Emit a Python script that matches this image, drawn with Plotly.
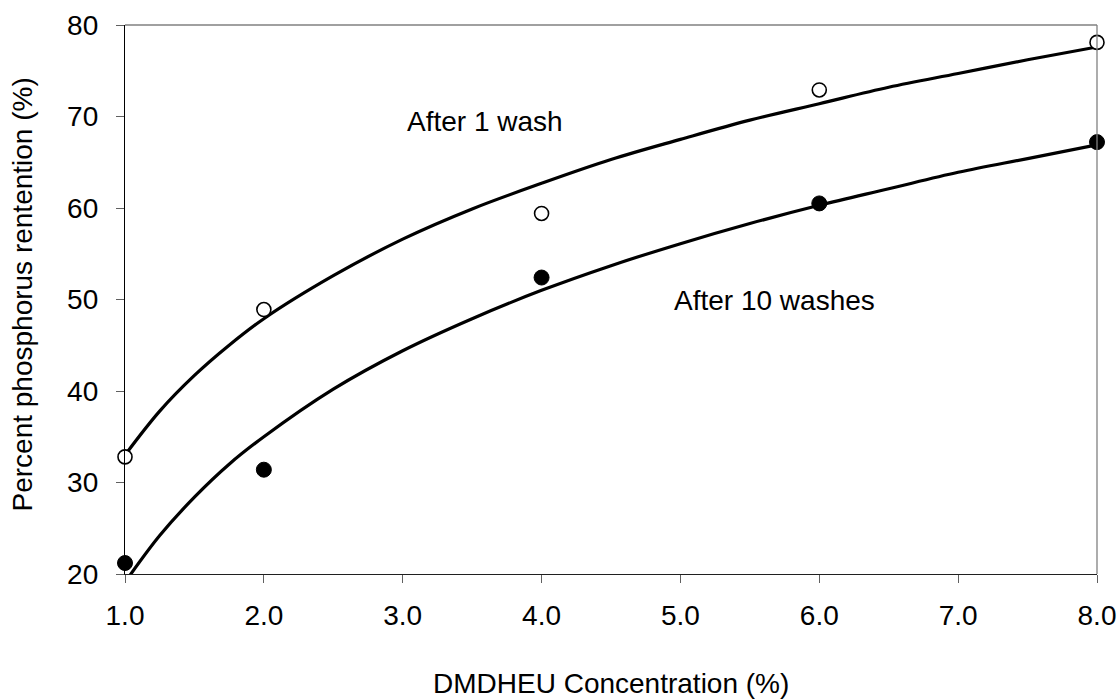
import plotly.graph_objects as go

# Measured data points
conc = [1.0, 2.0, 4.0, 6.0, 8.0]
after_1_wash = [32.8, 48.9, 59.4, 72.9, 78.1]
after_10_washes = [21.2, 31.4, 52.4, 60.5, 67.2]

# Fitted curves
curve_x = [1.0, 1.25, 1.5, 1.75, 2.0, 2.5, 3.0, 3.5, 4.0, 4.5, 5.0, 5.5, 6.0, 6.5, 7.0, 7.5, 8.0]
curve_1_wash = [33.0, 37.8, 41.7, 45.0, 47.9, 52.6, 56.6, 59.9, 62.7, 65.3, 67.5, 69.6, 71.4, 73.2, 74.7, 76.2, 77.6]
curve_10_washes = [19.1, 24.2, 28.4, 32.0, 35.0, 40.2, 44.4, 47.9, 51.0, 53.7, 56.1, 58.3, 60.3, 62.1, 63.9, 65.4, 66.9]

x_ticks = [1, 2, 3, 4, 5, 6, 7, 8]
x_tick_labels = ["1.0", "2.0", "3.0", "4.0", "5.0", "6.0", "7.0", "8.0"]
y_ticks = [20, 30, 40, 50, 60, 70, 80]

FONT = "Liberation Sans, Arial, sans-serif"
FS = 28

L, R, T, B = 125, 23, 25, 126
W, H = 1120, 700
pw, ph = W - L - R, H - T - B

def px(xp):
    return (xp - L) / pw

def py(yp):
    return 1 - (yp - T) / ph

fig = go.Figure()
fig.add_trace(go.Scatter(x=curve_x, y=curve_1_wash, mode="lines", line=dict(color="black", width=3.2, shape="spline"),
                         showlegend=False, hoverinfo="skip"))
fig.add_trace(go.Scatter(x=curve_x, y=curve_10_washes, mode="lines", line=dict(color="black", width=3.2, shape="spline"),
                         showlegend=False, hoverinfo="skip"))
fig.add_trace(go.Scatter(x=conc, y=after_1_wash, mode="markers", name="After 1 wash",
                         marker=dict(symbol="circle", size=14, color="white", line=dict(color="black", width=1.6)),
                         showlegend=False, cliponaxis=False))
fig.add_trace(go.Scatter(x=conc, y=after_10_washes, mode="markers", name="After 10 washes",
                         marker=dict(symbol="circle", size=15, color="black", line=dict(color="black", width=1)),
                         showlegend=False, cliponaxis=False))

fig.update_layout(
    width=W, height=H,
    margin=dict(l=L, r=R, t=T, b=B, autoexpand=False),
    paper_bgcolor="white", plot_bgcolor="white",
    font=dict(family=FONT, size=FS, color="black"),
    xaxis=dict(range=[1, 8], tickvals=x_ticks, ticktext=x_tick_labels, showgrid=False, zeroline=False,
               showline=True, linecolor="#202020", linewidth=1.3, ticks="outside", ticklen=8, tickcolor="#606060",
               tickwidth=1.3, ticklabelstandoff=8, tickfont=dict(family=FONT, size=FS)),
    yaxis=dict(range=[20, 80], tickvals=y_ticks, showgrid=False, zeroline=False,
               showline=True, linecolor="black", linewidth=1.3, ticks="outside", ticklen=8, tickcolor="#606060",
               tickwidth=1.3, ticklabelstandoff=12, tickfont=dict(family=FONT, size=FS)),
    shapes=[
        dict(type="line", xref="paper", yref="paper", x0=0, x1=1, y0=1, y1=1, line=dict(color="#808080", width=1.3)),
        dict(type="line", xref="paper", yref="paper", x0=1, x1=1, y0=0, y1=1, line=dict(color="#808080", width=1.3)),
    ],
    annotations=[
        dict(text="After 1 wash", x=px(405), y=py(121.7), xref="paper", yref="paper", showarrow=False,
             xanchor="left", yanchor="middle", font=dict(family=FONT, size=FS)),
        dict(text="After 10 washes", x=px(672), y=py(300), xref="paper", yref="paper", showarrow=False,
             xanchor="left", yanchor="middle", font=dict(family=FONT, size=FS)),
        dict(text="DMDHEU Concentration (%)", x=0.5, y=0, xref="paper", yref="paper", yshift=-109,
             showarrow=False, xanchor="center", yanchor="middle", font=dict(family=FONT, size=FS)),
        dict(text="Percent phosphorus rentention (%)", x=0, y=0.5, xref="paper", yref="paper", xshift=-103,
             yshift=5, textangle=-90, showarrow=False, xanchor="center", yanchor="middle",
             font=dict(family=FONT, size=FS)),
    ],
)

fig.write_html("out.html")
